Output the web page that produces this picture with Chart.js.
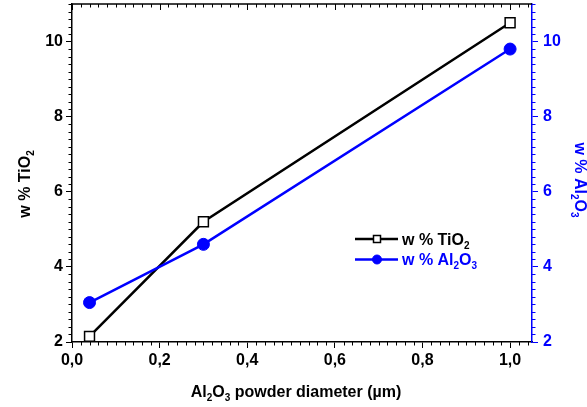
<!DOCTYPE html>
<html>
<head>
<meta charset="utf-8">
<script src="https://cdn.jsdelivr.net/npm/chart.js"></script>
<style>
  html, body { margin: 0; padding: 0; background: #fff; }
  canvas { display: block; }
</style>
</head>
<body>
<canvas id="chart" width="587" height="407"></canvas>
<script>
// Powder diameter (µm) and composition of the coating (wt %)
const diameters = [0.04, 0.3, 1.0];
const tio2 = [2.15, 5.2, 10.5];
const al2o3 = [3.05, 4.6, 9.8];

const xTicks = [0, 0.2, 0.4, 0.6, 0.8, 1.0];
const yTicks = [2, 4, 6, 8, 10];

// Text pieces: [text, isSubscript]
const xTitle = [['Al', 0], ['2', 1], ['O', 0], ['3', 1], [' powder diameter (µm)', 0]];
const yTitle = [['w % TiO', 0], ['2', 1]];
const y2Title = [['w % Al', 0], ['2', 1], ['O', 0], ['3', 1]];
const legendLabels = [yTitle, y2Title];

const BLUE = '#0000ff';
const FAMILY = '"Liberation Sans", Arial, sans-serif';
const font = { family: FAMILY, size: 16, weight: 'bold' };

function drawRich(ctx, parts, x, y, size, color, align) {
  const big = `bold ${size}px ${FAMILY}`;
  const small = `bold ${Math.round(size * 0.62)}px ${FAMILY}`;
  let w = 0;
  parts.forEach(([t, sub]) => { ctx.font = sub ? small : big; w += ctx.measureText(t).width; });
  let cx = align === 'center' ? x - w / 2 : x;
  ctx.fillStyle = color;
  ctx.textAlign = 'left';
  ctx.textBaseline = 'alphabetic';
  parts.forEach(([t, sub]) => {
    ctx.font = sub ? small : big;
    ctx.fillText(t, cx, sub ? y + size * 0.28 : y);
    cx += ctx.measureText(t).width;
  });
}

// minor ticks, inward top ticks, titles with subscripts and the legend
const decorations = {
  id: 'decorations',
  afterDraw(chart) {
    const { ctx, chartArea: a, scales: { x, y, y2 } } = chart;
    ctx.save();
    ctx.lineWidth = 1;

    ctx.strokeStyle = '#000';
    ctx.beginPath();
    for (let i = 0; i <= 52; i++) {
      const px = Math.round(x.getPixelForValue(i * 0.02)) + 0.5;
      const major = i % 10 === 0;
      if (!major) {
        ctx.moveTo(px, a.bottom);
        ctx.lineTo(px, a.bottom + 3.5);
      }
      ctx.moveTo(px, a.top);
      ctx.lineTo(px, a.top + (major ? 6 : 3.5));
    }
    for (let i = 0; i <= 45; i++) {
      if (i % 10 === 0) continue;
      const py = Math.round(y.getPixelForValue(2 + i * 0.2)) + 0.5;
      ctx.moveTo(a.left, py);
      ctx.lineTo(a.left - 3.5, py);
    }
    ctx.stroke();

    ctx.strokeStyle = BLUE;
    ctx.beginPath();
    for (let i = 0; i <= 45; i++) {
      if (i % 10 === 0) continue;
      const py = Math.round(y2.getPixelForValue(2 + i * 0.2)) + 0.5;
      ctx.moveTo(a.right, py);
      ctx.lineTo(a.right + 3.5, py);
    }
    ctx.stroke();

    // top frame line
    ctx.strokeStyle = '#000';
    ctx.lineWidth = 1.5;
    ctx.beginPath();
    ctx.moveTo(a.left, a.top);
    ctx.lineTo(a.right, a.top);
    ctx.stroke();

    // axis titles
    drawRich(ctx, xTitle, 296, 397, 16, '#000', 'center');
    ctx.save();
    ctx.translate(29.5, 184);
    ctx.rotate(-Math.PI / 2);
    drawRich(ctx, yTitle, 0, 0, 16, '#000', 'center');
    ctx.restore();
    ctx.save();
    ctx.translate(575, 180);
    ctx.rotate(Math.PI / 2);
    drawRich(ctx, y2Title, 0, 0, 16, BLUE, 'center');
    ctx.restore();

    // legend
    chart.data.datasets.forEach((ds, i) => {
      const ly = 239 + i * 20.5;
      ctx.strokeStyle = ds.borderColor;
      ctx.lineWidth = ds.borderWidth;
      ctx.beginPath();
      ctx.moveTo(355, ly);
      ctx.lineTo(398, ly);
      ctx.stroke();
      ctx.fillStyle = ds.pointBackgroundColor;
      ctx.strokeStyle = ds.pointBorderColor;
      ctx.lineWidth = ds.pointBorderWidth;
      ctx.beginPath();
      if (ds.pointStyle === 'rect') {
        ctx.rect(373.5, ly - 3.5, 7, 7);
      } else {
        ctx.arc(377, ly, 4.5, 0, Math.PI * 2);
      }
      ctx.fill();
      ctx.stroke();
      drawRich(ctx, legendLabels[i], 402, ly + 5.5, 16, ds.borderColor, 'left');
    });

    ctx.restore();
  }
};

const noPad = s => { s.paddingTop = 0; s.paddingBottom = 0; };

const ctx = document.getElementById('chart');
new Chart(ctx, {
  type: 'line',
  data: {
    datasets: [
      {
        label: 'w % TiO2',
        data: diameters.map((d, i) => ({ x: d, y: tio2[i] })),
        yAxisID: 'y',
        borderColor: '#000',
        borderWidth: 2.5,
        pointStyle: 'rect',
        pointRadius: 7,
        pointBackgroundColor: '#fff',
        pointBorderColor: '#000',
        pointBorderWidth: 1.5,
        tension: 0,
        order: 1
      },
      {
        label: 'w % Al2O3',
        data: diameters.map((d, i) => ({ x: d, y: al2o3[i] })),
        yAxisID: 'y2',
        borderColor: BLUE,
        borderWidth: 2.5,
        pointStyle: 'circle',
        pointRadius: 6,
        pointBackgroundColor: BLUE,
        pointBorderColor: BLUE,
        pointBorderWidth: 1,
        tension: 0,
        order: 0
      }
    ]
  },
  options: {
    responsive: false,
    animation: false,
    layout: { padding: { top: 4 }, autoPadding: false },
    plugins: { legend: { display: false }, tooltip: { enabled: false } },
    scales: {
      x: {
        type: 'linear',
        min: 0,
        max: 1.05,
        afterBuildTicks: s => { s.ticks = xTicks.map(v => ({ value: v })); },
        afterFit: s => { s.height = 65; },
        ticks: {
          callback: v => v.toFixed(1).replace('.', ','),
          font, color: '#000', padding: 3, maxRotation: 0
        },
        grid: { drawOnChartArea: false, tickLength: 6, color: '#000' },
        border: { color: '#000', width: 1.5 }
      },
      y: {
        position: 'left',
        min: 2,
        max: 11,
        afterBuildTicks: s => { s.ticks = yTicks.map(v => ({ value: v })); },
        afterFit: s => { s.width = 72; noPad(s); },
        ticks: { font, color: '#000', padding: 3 },
        grid: { drawOnChartArea: false, tickLength: 6, color: '#000' },
        border: { color: '#000', width: 1.5 }
      },
      y2: {
        position: 'right',
        min: 2,
        max: 11,
        afterBuildTicks: s => { s.ticks = yTicks.map(v => ({ value: v })); },
        afterFit: s => { s.width = 55; noPad(s); },
        ticks: { font, color: BLUE, padding: 5 },
        grid: { drawOnChartArea: false, tickLength: 6, color: BLUE },
        border: { color: BLUE, width: 1.5 }
      }
    }
  },
  plugins: [decorations]
});
</script>
</body>
</html>
